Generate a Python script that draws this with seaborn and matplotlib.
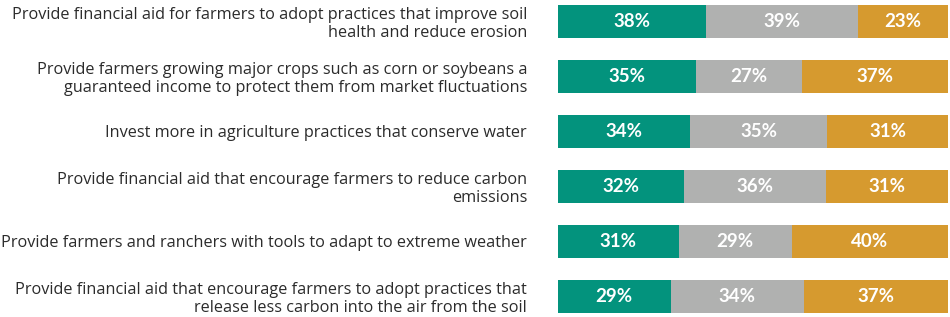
import numpy as np
import pandas as pd
import seaborn as sns
import matplotlib.pyplot as plt

labels = [
    "Provide financial aid for farmers to adopt practices that improve soil\nhealth and reduce erosion",
    "Provide farmers growing major crops such as corn or soybeans a\nguaranteed income to protect them from market fluctuations",
    "Invest more in agriculture practices that conserve water",
    "Provide financial aid that encourage farmers to reduce carbon\nemissions",
    "Provide farmers and ranchers with tools to adapt to extreme weather",
    "Provide financial aid that encourage farmers to adopt practices that\nrelease less carbon into the air from the soil",
]
first = [38, 35, 34, 32, 31, 29]
second = [39, 27, 35, 36, 29, 34]
third = [23, 37, 31, 31, 40, 37]

colors = ["#03937d", "#b0b1b0", "#d69a2f"]

sns.set_theme(style="white")
plt.rcParams["font.family"] = ["Open Sans", "DejaVu Sans"]

df = pd.DataFrame({"label": labels, "a": first, "b": second, "c": third})
tot = df[["a", "b", "c"]].sum(axis=1)
# scale each row to a full bar
df["s1"] = df["a"] / tot * 100
df["s2"] = (df["a"] + df["b"]) / tot * 100
df["s3"] = 100.0

fig = plt.figure(figsize=(9.5, 3.17), dpi=100)
ax = fig.add_axes([0.587, 0.005, 0.411, 0.989])

for col, c in zip(["s3", "s2", "s1"], colors[::-1]):
    sns.barplot(data=df, x=col, y="label", color=c, width=0.6,
                saturation=1, ax=ax, orient="h", linewidth=0)

# Open Sans bold comes out condensed here, use Lato bold instead
for i, row in df.iterrows():
    starts = [0, row["s1"], row["s2"]]
    ends = [row["s1"], row["s2"], row["s3"]]
    for s, e, v in zip(starts, ends, [row["a"], row["b"], row["c"]]):
        ax.text((s + e) / 2, i, f"{v}%", ha="center", va="center",
                color="white", fontsize=13.5, fontweight="bold",
                family=["Lato", "DejaVu Sans"])

ax.set_xlim(0, 100)
ax.set_ylim(5.35, -0.35)
ax.set_xlabel("")
ax.set_ylabel("")
ax.set_xticks([])
ax.tick_params(axis="y", length=0, pad=22, labelsize=11.7, labelcolor="#2b2b2b")
for t in ax.get_yticklabels():
    t.set_multialignment("right")
    t.set_linespacing(1.15)
sns.despine(ax=ax, left=True, bottom=True)

fig.savefig("out.png", dpi=100)
